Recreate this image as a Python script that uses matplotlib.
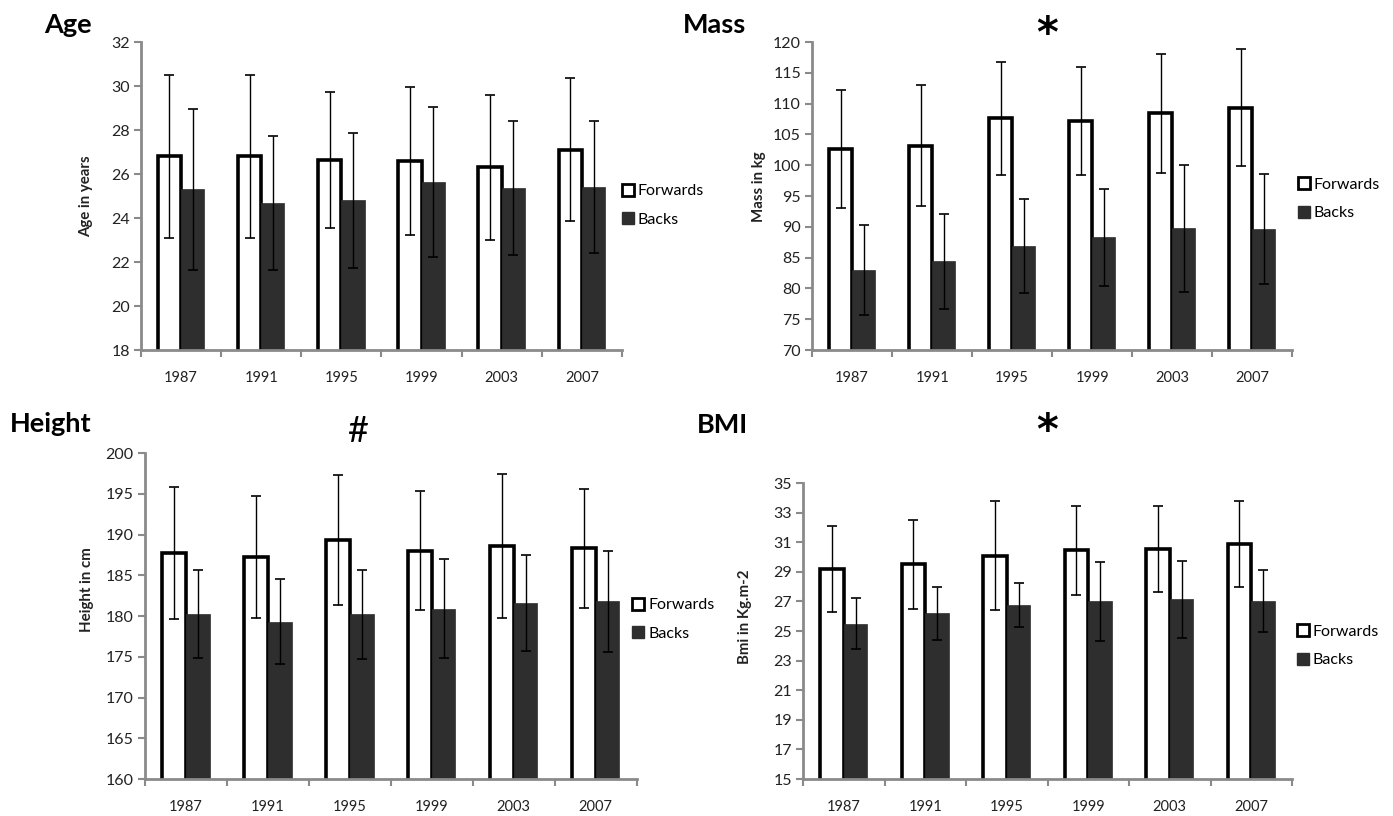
import matplotlib
matplotlib.use("Agg")
import matplotlib.pyplot as plt
import numpy as np
from matplotlib.lines import Line2D

plt.rcParams['font.family'] = ['Lato', 'DejaVu Sans']

years = ["1987", "1991", "1995", "1999", "2003", "2007"]

age_fwd = [26.8, 26.8, 26.65, 26.6, 26.3, 27.1]
age_fwd_sd = [3.7, 3.7, 3.1, 3.35, 3.3, 3.25]
age_back = [25.3, 24.7, 24.8, 25.65, 25.35, 25.4]
age_back_sd = [3.65, 3.05, 3.05, 3.4, 3.05, 3.0]

mass_fwd = [102.6, 103.2, 107.6, 107.2, 108.4, 109.3]
mass_fwd_sd = [9.6, 9.8, 9.2, 8.8, 9.7, 9.5]
mass_back = [83.0, 84.4, 86.9, 88.3, 89.8, 89.6]
mass_back_sd = [7.3, 7.7, 7.7, 7.9, 10.3, 8.9]

height_fwd = [187.7, 187.2, 189.3, 188.0, 188.6, 188.3]
height_fwd_sd = [8.1, 7.5, 8.0, 7.3, 8.8, 7.3]
height_back = [180.2, 179.3, 180.2, 180.9, 181.6, 181.8]
height_back_sd = [5.4, 5.2, 5.5, 6.1, 5.9, 6.2]

bmi_fwd = [29.2, 29.5, 30.1, 30.45, 30.55, 30.9]
bmi_fwd_sd = [2.9, 3.0, 3.7, 3.0, 2.9, 2.9]
bmi_back = [25.5, 26.2, 26.75, 27.0, 27.15, 27.05]
bmi_back_sd = [1.7, 1.8, 1.5, 2.65, 2.6, 2.1]

fig = plt.figure(figsize=(13.93, 8.16), dpi=100)

panels = [
    ([0.1012, 0.571, 0.3453, 0.3775], age_fwd, age_fwd_sd, age_back, age_back_sd,
     (18, 32), np.arange(18, 33, 2), "Age in years", 0.50, (1.002, 0.47), -0.100),
    ([0.583, 0.571, 0.3446, 0.3775], mass_fwd, mass_fwd_sd, mass_back, mass_back_sd,
     (70, 120), np.arange(70, 121, 5), "Mass in kg", 0.53, (1.015, 0.49), -0.096),
    ([0.104, 0.0453, 0.353, 0.3995], height_fwd, height_fwd_sd, height_back, height_back_sd,
     (160, 200), np.arange(160, 201, 5), "Height in cm", 0.58, (0.994, 0.49), -0.104),
    ([0.5765, 0.0453, 0.351, 0.3627], bmi_fwd, bmi_fwd_sd, bmi_back, bmi_back_sd,
     (15, 35), np.arange(15, 36, 2), "Bmi in Kg.m-2", 0.55, (1.012, 0.45), -0.104),
]

gray = '#8a8a8a'
dark = '#2e2e2e'
x = np.arange(len(years))
w = 0.29

for rect, f, fsd, b, bsd, ylim, yt, ylab, ly, lanchor, lx in panels:
    ax = fig.add_axes(rect)
    ax.bar(x - w / 2, f, width=w, bottom=0, color='white', edgecolor='black',
           linewidth=2.6, zorder=2)
    ax.bar(x + w / 2, b, width=w, color=dark, edgecolor=dark, linewidth=0.5, zorder=2)
    ax.errorbar(x - w / 2, f, yerr=fsd, fmt='none', ecolor='black', elinewidth=1,
                capsize=3.5, capthick=1.2, zorder=3)
    ax.errorbar(x + w / 2, b, yerr=bsd, fmt='none', ecolor='black', elinewidth=1,
                capsize=3.5, capthick=1.2, zorder=3)
    ax.set_xlim(-0.5, 5.5)
    ax.set_ylim(*ylim)
    ax.set_yticks(yt)
    ax.set_xticks(x)
    ax.set_xticklabels(years)
    ax.set_xticks(np.arange(-0.5, 6.0, 1.0), minor=True)
    ax.tick_params(axis='x', which='major', length=0, pad=15, labelsize=10.5, colors='#222222')
    ax.tick_params(axis='x', which='minor', length=5, width=1.5, color=gray, direction='out')
    ax.tick_params(axis='y', length=5, width=1.5, color=gray, direction='out',
                   labelsize=11.5, labelcolor='#222222', pad=3)
    for s in ['top', 'right']:
        ax.spines[s].set_visible(False)
    for s in ['left', 'bottom']:
        ax.spines[s].set_color(gray)
        ax.spines[s].set_linewidth(2)
    ax.set_ylabel(ylab, fontsize=10.8, fontweight='bold', color='#222222')
    ax.yaxis.set_label_coords(lx, ly)
    handles = [
        Line2D([], [], marker='s', linestyle='none', markersize=9, markerfacecolor='white',
               markeredgecolor='black', markeredgewidth=2),
        Line2D([], [], marker='s', linestyle='none', markersize=9, markerfacecolor=dark,
               markeredgecolor=dark),
    ]
    ax.legend(handles, ["Forwards", "Backs"], loc='center left', bbox_to_anchor=lanchor,
              frameon=False, fontsize=11.5, handlelength=0.6, handletextpad=0.3,
              labelspacing=0.9, borderpad=0, borderaxespad=0)

fig.text(0.032, 0.969, "Age", fontsize=19.5, fontweight='bold', ha='left', va='center')
fig.text(0.490, 0.969, "Mass", fontsize=19.5, fontweight='bold', ha='left', va='center')
fig.text(0.752, 0.957, "*", fontsize=30, family='DejaVu Sans', fontweight='bold',
         ha='center', va='center')
fig.text(0.007, 0.481, "Height", fontsize=19.5, fontweight='bold', ha='left', va='center')
fig.text(0.257, 0.471, "#", fontsize=26, ha='center', va='center')
fig.text(0.500, 0.479, "BMI", fontsize=19.5, fontweight='bold', ha='left', va='center')
fig.text(0.752, 0.471, "*", fontsize=30, family='DejaVu Sans', fontweight='bold',
         ha='center', va='center')

fig.savefig("out.png", dpi=100)
